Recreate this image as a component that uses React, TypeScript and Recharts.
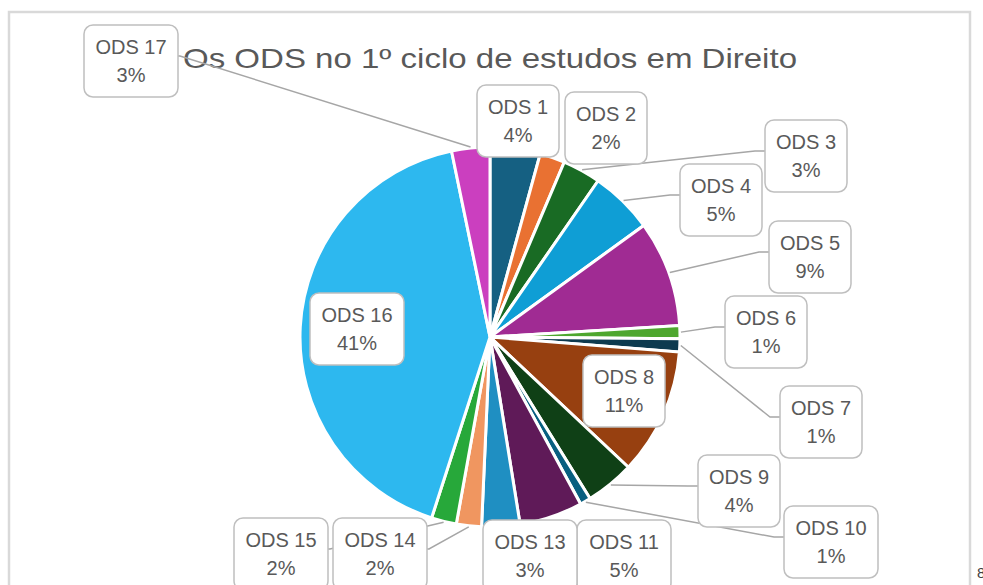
import { PieChart, Pie, Cell } from 'recharts'

const categories = ['ODS 1', 'ODS 2', 'ODS 3', 'ODS 4', 'ODS 5', 'ODS 6', 'ODS 7', 'ODS 8', 'ODS 9', 'ODS 10', 'ODS 11', 'ODS 12', 'ODS 13', 'ODS 14', 'ODS 15', 'ODS 16', 'ODS 17']
const shares = [4.2, 2.1, 3.2, 5.3, 8.9, 1.1, 1.1, 10.6, 4.1, 0.9, 5.3, 0, 3.2, 2.1, 2.1, 41.2, 3.2]
const colors = ['#156082', '#e97132', '#196b24', '#0f9ed5', '#a02b93', '#4ea72e', '#0d3a4f', '#974010', '#0f4016', '#085f80', '#5f1a58', '#2f6a1c', '#1f8fc2', '#f09660', '#27a83a', '#2db8ef', '#cb3fbf']

const title = 'Os ODS no 1º ciclo de estudos em Direito'

// where Excel put each data label (box centre) and which side the leader line attaches to
const labelBoxes: Record<string, { x: number; y: number; side?: 'left' | 'right' }> = {
  'ODS 1': { x: 518, y: 121 },
  'ODS 2': { x: 606, y: 128 },
  'ODS 3': { x: 806, y: 156, side: 'left' },
  'ODS 4': { x: 721, y: 200, side: 'left' },
  'ODS 5': { x: 810, y: 257, side: 'left' },
  'ODS 6': { x: 766, y: 332, side: 'left' },
  'ODS 7': { x: 821, y: 422, side: 'left' },
  'ODS 8': { x: 624, y: 391 },
  'ODS 9': { x: 739, y: 491, side: 'left' },
  'ODS 10': { x: 831, y: 542, side: 'left' },
  'ODS 11': { x: 624, y: 556 },
  'ODS 13': { x: 530, y: 556 },
  'ODS 14': { x: 380, y: 554, side: 'right' },
  'ODS 15': { x: 281, y: 554, side: 'right' },
  'ODS 16': { x: 357, y: 329 },
  'ODS 17': { x: 131, y: 61, side: 'right' },
}

const data = categories
  .map((name, i) => ({ name, value: shares[i], color: colors[i] }))
  .filter(d => d.value > 0)

const RAD = Math.PI / 180
const FONT = '"Liberation Sans", Arial, sans-serif'
const boxW = (name: string) => (name.length > 5 ? 94 : 82)
const BOX_H = 72

function LeaderLine(props: any) {
  const { cx, cy, midAngle, outerRadius, name } = props
  const box = labelBoxes[name]
  if (!box || !box.side) return null
  const sx = cx + Math.cos(-midAngle * RAD) * (outerRadius + 1)
  const sy = cy + Math.sin(-midAngle * RAD) * (outerRadius + 1)
  const w = boxW(name)
  const ax = box.side === 'left' ? box.x - w / 2 : box.x + w / 2
  const ay = box.y - 5
  const ex = box.side === 'left' ? ax - 10 : ax + 2
  return (
    <polyline
      points={`${sx},${sy} ${ex},${ay} ${ax},${ay}`}
      fill="none"
      stroke="#a6a6a6"
      strokeWidth={1.5}
    />
  )
}

function LabelBox(props: any) {
  const { name, value } = props
  const box = labelBoxes[name]
  if (!box) return null
  const w = boxW(name)
  return (
    <g>
      <rect
        x={box.x - w / 2}
        y={box.y - BOX_H / 2}
        width={w}
        height={BOX_H}
        rx={9}
        fill="#ffffff"
        stroke="#bfbfbf"
        strokeWidth={1.5}
      />
      <text x={box.x} y={box.y - 7} textAnchor="middle" fontFamily={FONT} fontSize={20} fill="#595959">
        {name}
      </text>
      <text x={box.x} y={box.y + 21} textAnchor="middle" fontFamily={FONT} fontSize={20} fill="#595959">
        {Math.round(value)}%
      </text>
    </g>
  )
}

export default function App() {
  return (
    <div style={{ position: 'absolute', left: 0, top: 0, width: 983, height: 585, overflow: 'hidden', background: '#fff' }}>
      <svg width={983} height={585} style={{ position: 'absolute', left: 0, top: 0 }}>
        <rect x={9} y={12} width={961} height={600} fill="#ffffff" stroke="#d9d9d9" strokeWidth={2.5} />
        <text x={183} y={68} fontFamily={FONT} fontSize={28} fill="#595959" textLength={614} lengthAdjust="spacingAndGlyphs">
          {title}
        </text>
        <text x={977} y={578} fontFamily={FONT} fontSize={15} fill="#404040">8</text>
      </svg>
      <div style={{ position: 'absolute', left: 0, top: 0 }}>
        <PieChart width={983} height={585} margin={{ top: 0, right: 0, bottom: 0, left: 0 }}>
          <Pie
            data={data}
            dataKey="value"
            nameKey="name"
            cx={490}
            cy={337}
            outerRadius={190}
            startAngle={90}
            endAngle={-270}
            stroke="#ffffff"
            strokeWidth={3}
            label={LeaderLine}
            labelLine={false}
            isAnimationActive={false}
          >
            {data.map(d => (
              <Cell key={d.name} fill={d.color} />
            ))}
          </Pie>
          <Pie
            data={data}
            dataKey="value"
            nameKey="name"
            cx={490}
            cy={337}
            outerRadius={190}
            startAngle={90}
            endAngle={-270}
            fill="none"
            stroke="none"
            label={LabelBox}
            labelLine={false}
            isAnimationActive={false}
          />
        </PieChart>
      </div>
    </div>
  )
}
